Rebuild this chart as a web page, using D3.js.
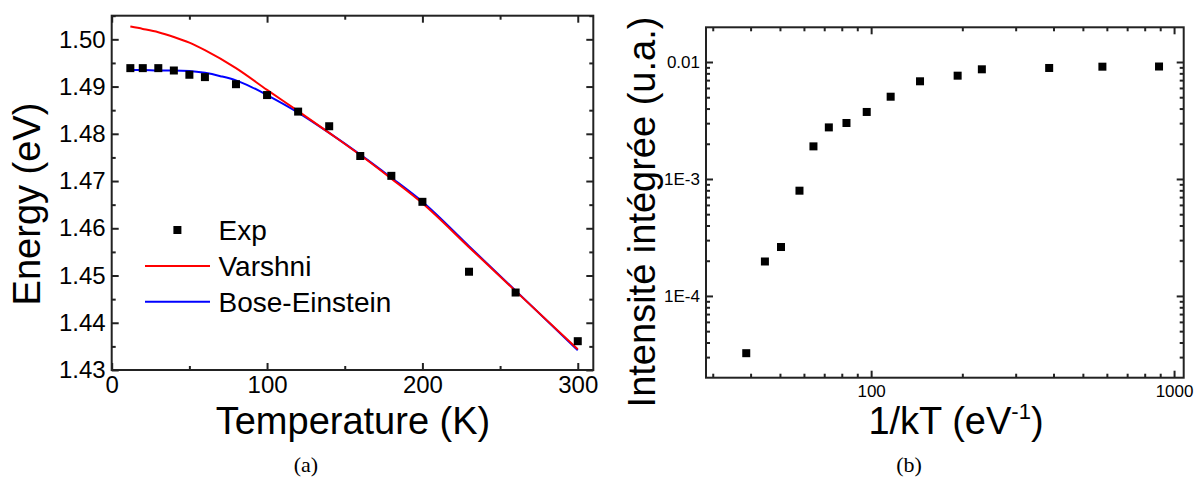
<!DOCTYPE html>
<html>
<head>
<meta charset="utf-8">
<script src="https://cdn.jsdelivr.net/npm/d3@7"></script>
<style>
  html, body { margin: 0; padding: 0; background: #fff; }
  svg { display: block; }
  text { font-family: "Liberation Sans", Arial, sans-serif; fill: #000; }
  text.cap { font-family: "Liberation Serif", "DejaVu Serif", serif; }
</style>
</head>
<body>
<svg id="chart" width="1198" height="482"></svg>
<script>
// ---------- Data: panel (a) ----------
const expT = [12, 20, 30, 40, 50, 60, 80, 100, 120, 140, 160, 180, 200, 230, 260, 300];
const expE = [1.4939, 1.4939, 1.4939, 1.4934, 1.4925, 1.4920, 1.4905, 1.4882, 1.4847, 1.4816, 1.4753, 1.4711, 1.4656, 1.4508, 1.4464, 1.4361];

const varshniT = [12, 20, 30, 40, 50, 60, 80, 100, 120, 140, 160, 180, 200, 230, 260, 300];
const varshniE = [1.5027, 1.5022, 1.5015, 1.5005, 1.4993, 1.4977, 1.4939, 1.4893, 1.4848, 1.4802, 1.4755, 1.4705, 1.4653, 1.4560, 1.4467, 1.4344];

const boseT = [12, 20, 30, 40, 50, 60, 70, 80, 90, 100, 120, 140, 160, 180, 200, 230, 260, 300];
const boseE = [1.4935, 1.4935, 1.4934, 1.4934, 1.4933, 1.4929, 1.4922, 1.4913, 1.4899, 1.4882, 1.4845, 1.4802, 1.4756, 1.4707, 1.4656, 1.4562, 1.4468, 1.4342];

const aXMajor = [0, 100, 200, 300];
const aXMinor = [50, 150, 250];
const aYMajor = [1.43, 1.44, 1.45, 1.46, 1.47, 1.48, 1.49, 1.50];
const aYMinor = [1.435, 1.445, 1.455, 1.465, 1.475, 1.485, 1.495, 1.505];
const aYLabels = ["1.43", "1.44", "1.45", "1.46", "1.47", "1.48", "1.49", "1.50"];
const legendNames = ["Exp", "Varshni", "Bose-Einstein"];

// ---------- Data: panel (b) ----------
const invKT = [38.7, 44.6, 50.4, 58.0, 64.5, 72.5, 82.9, 96.7, 116, 145, 193, 232, 387, 580, 892];
const intensity = [3.24e-5, 1.97e-4, 2.62e-4, 7.94e-4, 1.90e-3, 2.76e-3, 3.01e-3, 3.74e-3, 5.05e-3, 6.84e-3, 7.64e-3, 8.66e-3, 8.89e-3, 9.12e-3, 9.15e-3];

const bXMajor = [100, 1000];
const bXLabels = ["100", "1000"];
const bXMinor = [30, 40, 50, 60, 70, 80, 90, 200, 300, 400, 500, 600, 700, 800, 900];
const bYMajor = [1e-4, 1e-3, 1e-2];
const bYLabels = ["1E-4", "1E-3", "0.01"];
const bYMinor = [3e-5, 4e-5, 5e-5, 6e-5, 7e-5, 8e-5, 9e-5,
                 2e-4, 3e-4, 4e-4, 5e-4, 6e-4, 7e-4, 8e-4, 9e-4,
                 2e-3, 3e-3, 4e-3, 5e-3, 6e-3, 7e-3, 8e-3, 9e-3];

// ---------- Drawing ----------
const svg = d3.select("#chart");
svg.append("rect").attr("width", 1198).attr("height", 482).attr("fill", "#fff");

const AXC = "#222";
const MAJ = 7, MIN = 4;

function styleAxis(g) {
  g.select(".domain").remove();
  g.selectAll(".tick line").attr("stroke", AXC).attr("stroke-width", 2);
}

function frameAxes(x, y, xMaj, xMin, yMaj, yMin, xFmt, yFmt, fs, xPad, yPad) {
  const [x0, x1] = x.range(), [y0, y1] = y.range();
  const g = svg.append("g");
  const lab = s => s.selectAll("text").attr("font-size", fs);
  // bottom
  g.append("g").attr("transform", `translate(0,${y0})`)
    .call(d3.axisBottom(x).tickValues(xMaj).tickSize(-MAJ).tickSizeOuter(0).tickPadding(xPad).tickFormat(xFmt))
    .call(styleAxis).call(lab);
  g.append("g").attr("transform", `translate(0,${y0})`)
    .call(d3.axisBottom(x).tickValues(xMin).tickSize(-MIN).tickSizeOuter(0).tickFormat(""))
    .call(styleAxis);
  // top
  g.append("g").attr("transform", `translate(0,${y1})`)
    .call(d3.axisTop(x).tickValues(xMaj).tickSize(-MAJ).tickSizeOuter(0).tickFormat(""))
    .call(styleAxis);
  g.append("g").attr("transform", `translate(0,${y1})`)
    .call(d3.axisTop(x).tickValues(xMin).tickSize(-MIN).tickSizeOuter(0).tickFormat(""))
    .call(styleAxis);
  // left
  g.append("g").attr("transform", `translate(${x0},0)`)
    .call(d3.axisLeft(y).tickValues(yMaj).tickSize(-MAJ).tickSizeOuter(0).tickPadding(yPad).tickFormat(yFmt))
    .call(styleAxis).call(lab);
  g.append("g").attr("transform", `translate(${x0},0)`)
    .call(d3.axisLeft(y).tickValues(yMin).tickSize(-MIN).tickSizeOuter(0).tickFormat(""))
    .call(styleAxis);
  // right
  g.append("g").attr("transform", `translate(${x1},0)`)
    .call(d3.axisRight(y).tickValues(yMaj).tickSize(-MAJ).tickSizeOuter(0).tickFormat(""))
    .call(styleAxis);
  g.append("g").attr("transform", `translate(${x1},0)`)
    .call(d3.axisRight(y).tickValues(yMin).tickSize(-MIN).tickSizeOuter(0).tickFormat(""))
    .call(styleAxis);
  // frame
  g.append("rect").attr("x", x0).attr("y", y1).attr("width", x1 - x0).attr("height", y0 - y1)
    .attr("fill", "none").attr("stroke", AXC).attr("stroke-width", 2);
}

// ===== Panel (a) =====
const xA = d3.scaleLinear().domain([0, 310]).range([111.7, 593.3]);
const yA = d3.scaleLinear().domain([1.43, 1.505]).range([370, 15.7]);

const lineA = d3.line().curve(d3.curveMonotoneX);
svg.append("path")
  .attr("d", lineA(boseT.map((t, i) => [xA(t), yA(boseE[i])])))
  .attr("fill", "none").attr("stroke", "#0000ff").attr("stroke-width", 2);
svg.append("path")
  .attr("d", lineA(varshniT.map((t, i) => [xA(t), yA(varshniE[i])])))
  .attr("fill", "none").attr("stroke", "#ff0000").attr("stroke-width", 2);

const MS = 8;
svg.append("g").selectAll("rect").data(expT).join("rect")
  .attr("x", (d) => xA(d) - MS / 2)
  .attr("y", (d, i) => yA(expE[i]) - MS / 2)
  .attr("width", MS).attr("height", MS).attr("fill", "#000");

frameAxes(xA, yA, aXMajor, aXMinor, aYMajor, aYMinor,
  d => String(d), (d, i) => aYLabels[i], 24, 6, 6);

// legend (a)
const leg = svg.append("g");
leg.append("rect").attr("x", 177.4 - MS / 2).attr("y", 230 - MS / 2).attr("width", MS).attr("height", MS).attr("fill", "#000");
leg.append("line").attr("x1", 145).attr("x2", 210).attr("y1", 266).attr("y2", 266).attr("stroke", "#ff0000").attr("stroke-width", 2);
leg.append("line").attr("x1", 145).attr("x2", 210).attr("y1", 301.7).attr("y2", 301.7).attr("stroke", "#0000ff").attr("stroke-width", 2);
[230, 266, 301.7].forEach((yy, i) => {
  leg.append("text").attr("x", 218.5).attr("y", yy + 10).attr("font-size", 28).text(legendNames[i]);
});

// axis titles (a)
svg.append("text").attr("x", 353).attr("y", 434).attr("text-anchor", "middle").attr("font-size", 38)
  .text("Temperature (K)");
svg.append("text").attr("transform", "translate(39.5,204) rotate(-90)").attr("text-anchor", "middle").attr("font-size", 38)
  .text("Energy (eV)");

// ===== Panel (b) =====
const xB = d3.scaleLog().domain([28.5, 1076]).range([706, 1183.7]);
const yB = d3.scaleLog().domain([2e-5, 0.0198]).range([377.7, 27.3]);

svg.append("g").selectAll("rect").data(invKT).join("rect")
  .attr("x", (d) => xB(d) - MS / 2)
  .attr("y", (d, i) => yB(intensity[i]) - MS / 2)
  .attr("width", MS).attr("height", MS).attr("fill", "#000");

frameAxes(xB, yB, bXMajor, bXMinor, bYMajor, bYMinor,
  (d, i) => bXLabels[i], (d, i) => bYLabels[i], 17, 7, 6);

// axis titles (b)
const tb = svg.append("text").attr("x", 956).attr("y", 434).attr("text-anchor", "middle").attr("font-size", 38);
tb.append("tspan").text("1/kT (eV");
tb.append("tspan").attr("font-size", 22).attr("dy", -15).text("-1");
tb.append("tspan").attr("dy", 15).text(")");

svg.append("text").attr("transform", "translate(654.5,212) rotate(-90)").attr("text-anchor", "middle").attr("font-size", 38)
  .text("Intensité intégrée (u.a.)");

// captions
svg.append("text").attr("class", "cap").attr("x", 306).attr("y", 472).attr("text-anchor", "middle").attr("font-size", 22).text("(a)");
svg.append("text").attr("class", "cap").attr("x", 909).attr("y", 472).attr("text-anchor", "middle").attr("font-size", 22).text("(b)");
</script>
</body>
</html>
